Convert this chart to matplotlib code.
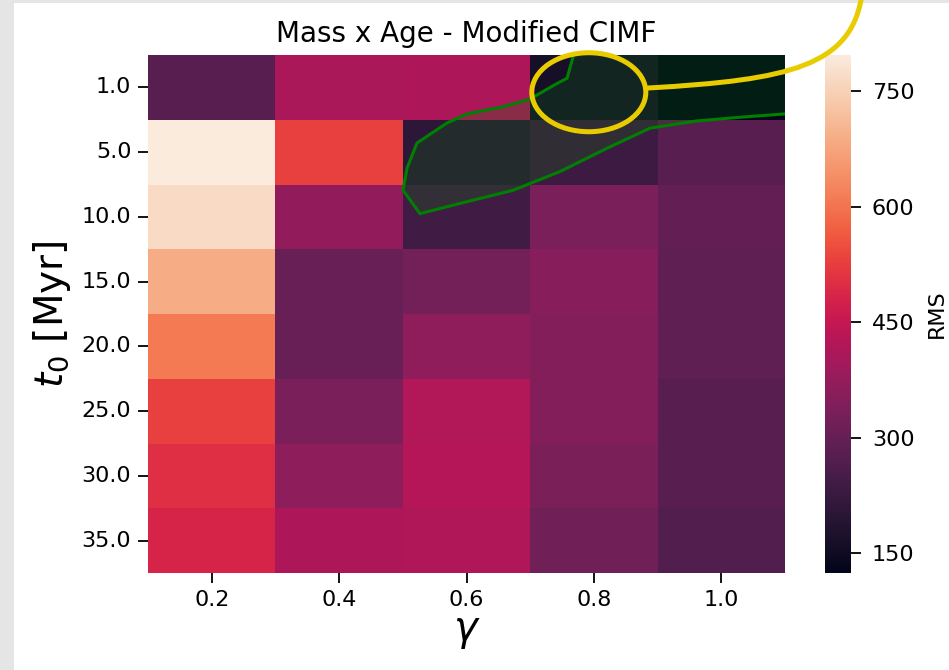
import numpy as np
import matplotlib
matplotlib.use("Agg")
import matplotlib.pyplot as plt
import seaborn as sns
from matplotlib.patches import Ellipse, Rectangle, PathPatch
from matplotlib.path import Path

# ---------------- data ----------------
gamma = [0.2, 0.4, 0.6, 0.8, 1.0]
t0 = [1.0, 5.0, 10.0, 15.0, 20.0, 25.0, 30.0, 35.0]
rms_g02 = [279, 797, 768, 688, 610, 530, 505, 482]
rms_g04 = [410, 530, 370, 303, 303, 333, 365, 412]
rms_g06 = [412, 205, 238, 322, 368, 420, 425, 418]
rms_g08 = [164, 232, 333, 355, 348, 350, 336, 318]
rms_g10 = [124, 279, 296, 290, 290, 278, 278, 268]

# best-fit region contour (heatmap cell coordinates: column index, row index)
contour_col = [3.336, 3.289, 3.210, 2.998, 2.787, 2.504, 2.347, 2.111, 2.033,
               2.002, 2.135, 2.473, 2.865, 3.234, 3.603, 3.940, 4.300, 4.655, 5.0]
contour_row = [0.03, 0.36, 0.44, 0.68, 0.80, 0.91, 1.05, 1.36, 1.75,
               2.09, 2.45, 2.28, 2.09, 1.80, 1.44, 1.13, 1.02, 0.96, 0.91]

cbar_ticks = [150, 300, 450, 600, 750]

rms = np.array([rms_g02, rms_g04, rms_g06, rms_g08, rms_g10]).T

# ---------------- figure ----------------
W, H = 949, 670
fig = plt.figure(figsize=(W / 100, H / 100), dpi=100)
fig.patch.set_facecolor("#e5e5e5")
fig.patches.append(Rectangle((14 / W, 0), 1 - 14 / W, 1 - 3 / H,
                             transform=fig.transFigure, facecolor="white",
                             edgecolor="none", zorder=-10))

def fx(x):
    return x / W

def fy(y):
    return 1 - y / H

ax = fig.add_axes([fx(148), fy(573), fx(785) - fx(148), fy(55) - fy(573)])
cax = fig.add_axes([fx(825), fy(573), fx(851) - fx(825), fy(55) - fy(573)])

sns.heatmap(rms, ax=ax, cbar_ax=cax, cmap="rocket",
            xticklabels=[f"{g:.1f}" for g in gamma],
            yticklabels=[f"{t:.1f}" for t in t0],
            cbar_kws={"label": "RMS", "ticks": cbar_ticks})

ax.set_yticklabels(ax.get_yticklabels(), rotation=0, fontsize=16)
ax.set_xticklabels(ax.get_xticklabels(), rotation=0, fontsize=16)
ax.tick_params(axis="both", length=7, width=1.3, pad=5)
ax.set_title("Mass x Age - Modified CIMF", fontsize=20, pad=9)
ax.set_xlabel(r"$\gamma$", fontsize=29, labelpad=1)
ax.set_ylabel(r"$t_0$ [Myr]", fontsize=28, labelpad=6)

cax.tick_params(labelsize=16, length=7, width=1.3, pad=8)
cax.set_ylabel("RMS", fontsize=16, labelpad=9)

# filled best-fit region + contour line
poly_x = list(contour_col) + [5.0, contour_col[0]]
poly_y = list(contour_row) + [0.0, 0.0]
ax.fill(poly_x, poly_y, color="green", alpha=0.2, lw=0, zorder=3)
ax.plot(contour_col, contour_row, color="green", lw=2.2, zorder=4)

# yellow highlight annotation
yellow = "#e8cc00"
ell = Ellipse((3.46, 0.575), 0.895, 1.22, facecolor="none", edgecolor=yellow,
              lw=3.6, zorder=6, clip_on=False)
ax.add_patch(ell)
verts = [(fx(648), fy(88)), (fx(790), fy(80)), (fx(852), fy(66)), (fx(862), fy(-6))]
codes = [Path.MOVETO, Path.CURVE4, Path.CURVE4, Path.CURVE4]
tail = PathPatch(Path(verts, codes), transform=fig.transFigure, facecolor="none",
                 edgecolor=yellow, lw=3.6, capstyle="round", clip_on=False, zorder=7)
fig.patches.append(tail)

fig.savefig("out.png", dpi=100)
